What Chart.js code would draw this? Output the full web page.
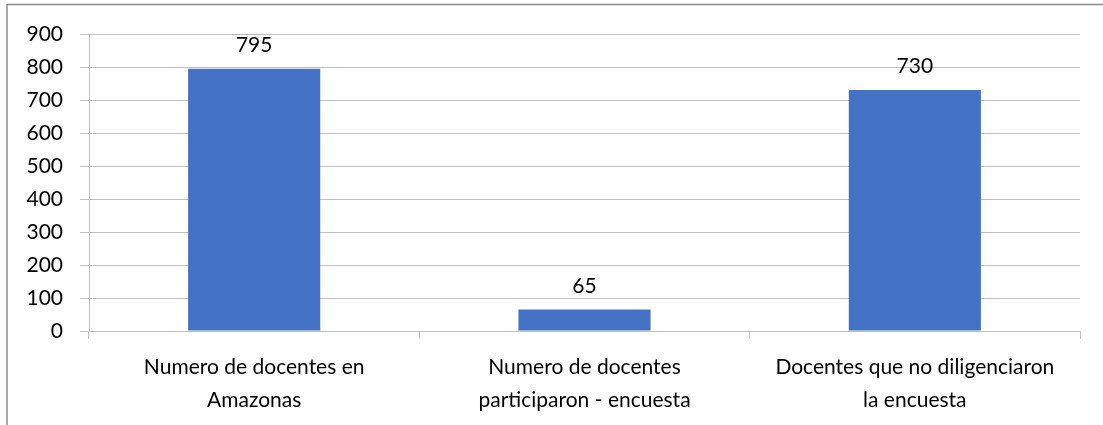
<!DOCTYPE html>
<html>
<head>
<meta charset="utf-8">
<script src="https://cdn.jsdelivr.net/npm/chart.js@4"></script>
<style>
  body { margin: 0; background: #fff; }
  #wrap { position: relative; width: 1103px; height: 425px; }
</style>
</head>
<body>
<div id="wrap"><canvas id="chart"></canvas></div>
<script>
// ----- data -----
const categories = [
  ["Numero de docentes en", "Amazonas"],
  ["Numero de docentes", "participaron - encuesta"],
  ["Docentes que no diligenciaron", "la encuesta"]
];
const values = [795, 65, 730];
const yTicks = [0, 100, 200, 300, 400, 500, 600, 700, 800, 900];

const FONT = "Lato, 'Noto Sans', sans-serif";
const gridColor = "#bfbfbf";

// value labels above each bar
const barLabels = {
  id: "barLabels",
  afterDatasetsDraw(chart) {
    const ctx = chart.ctx;
    ctx.save();
    ctx.font = "21px " + FONT;
    ctx.fillStyle = "#000";
    ctx.textAlign = "center";
    ctx.textBaseline = "alphabetic";
    chart.getDatasetMeta(0).data.forEach((bar, i) => {
      ctx.fillText(values[i], bar.x, bar.y - 17);
    });
    ctx.restore();
  }
};

// outer frame (left + top only, like the source)
const frame = {
  id: "frame",
  beforeDraw(chart) {
    const ctx = chart.ctx;
    ctx.save();
    ctx.strokeStyle = "#8c8c8c";
    ctx.lineWidth = 1.5;
    ctx.beginPath();
    ctx.moveTo(7, 425);
    ctx.lineTo(7, 4.5);
    ctx.lineTo(1103, 4.5);
    ctx.stroke();
    ctx.restore();
  }
};

new Chart(document.getElementById("chart"), {
  type: "bar",
  data: {
    labels: categories,
    datasets: [{
      data: values,
      backgroundColor: "#4472c4",
      borderWidth: 0,
      categoryPercentage: 1,
      barPercentage: 0.4
    }]
  },
  options: {
    responsive: true,
    maintainAspectRatio: false,
    animation: false,
    layout: { padding: { top: 34, right: 23, left: 0, bottom: 0 } },
    plugins: { legend: { display: false }, tooltip: { enabled: false } },
    scales: {
      x: {
        grid: { offset: true, drawOnChartArea: false, tickLength: 8, color: gridColor },
        border: { display: true, color: gridColor },
        ticks: {
          autoSkip: false, maxRotation: 0, color: "#000", padding: 12,
          font: { family: FONT, size: 21, lineHeight: 1.56 }
        },
        afterFit(scale) { scale.height = 94; }
      },
      y: {
        min: 0, max: 900,
        afterBuildTicks(scale) { scale.ticks = yTicks.map(v => ({ value: v })); },
        grid: { color: gridColor, tickLength: 9 },
        border: { display: true, color: gridColor },
        ticks: { color: "#000", padding: 17, font: { family: FONT, size: 21 } },
        afterFit(scale) { scale.width = 89; }
      }
    }
  },
  plugins: [barLabels, frame]
});
</script>
</body>
</html>
